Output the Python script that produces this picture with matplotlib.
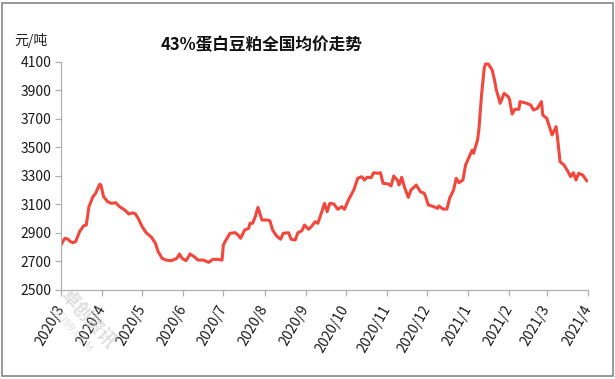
import numpy as np
import matplotlib.pyplot as plt
import matplotlib.dates as mdates
from matplotlib.patches import Rectangle

plt.rcParams['font.family'] = ['Noto Sans CJK SC', 'DejaVu Sans']

# days counted from 2020-03-01, price in 元/吨
days = [0, 2, 3, 5, 7, 9, 11, 14, 17, 19, 21, 24, 26, 28, 29, 30, 32, 35, 38, 41,
        44, 48, 51, 54, 56, 58, 61, 64, 68, 71, 73, 76, 79, 83, 87, 89, 91, 94, 97, 100,
        103, 107, 111, 114, 118, 121, 122, 124, 127, 131, 133, 135, 138, 141, 142, 144, 146, 148, 151, 155,
        157, 159, 162, 165, 167, 171, 173, 176, 178, 181, 183, 186, 188, 191, 193, 196, 198, 200, 202, 205,
        208, 211, 213, 216, 220, 223, 226, 228, 230, 233, 235, 238, 240, 242, 246, 248, 250, 253, 254, 256,
        258, 261, 263, 267, 270, 273, 274, 276, 280, 283, 284, 287, 290, 292, 295, 297, 299, 302, 304, 307,
        309, 310, 313, 314, 316, 318, 319, 321, 324, 326, 327, 330, 331, 333, 336, 337, 339, 341, 344, 345,
        350, 353, 355, 358, 361, 362, 365, 367, 369, 372, 373, 375, 378, 381, 383, 385, 387, 389, 392, 395]
prices = [2816, 2850, 2863, 2858, 2840, 2832, 2840, 2910, 2951, 2956, 3085, 3155, 3178, 3220, 3242, 3237, 3155, 3120, 3108, 3113,
          3085, 3061, 3033, 3042, 3033, 3003, 2944, 2902, 2870, 2827, 2769, 2722, 2710, 2706, 2722, 2753, 2722, 2706, 2753, 2734,
          2710, 2710, 2694, 2715, 2715, 2710, 2816, 2851, 2898, 2902, 2886, 2863, 2921, 2933, 2968, 2968, 3015, 3080, 2991, 2991,
          2986, 2921, 2879, 2856, 2898, 2902, 2856, 2851, 2902, 2916, 2956, 2926, 2944, 2979, 2968, 3050, 3108, 3050, 3108, 3104,
          3066, 3085, 3066, 3132, 3202, 3284, 3295, 3272, 3291, 3288, 3323, 3319, 3323, 3249, 3244, 3230, 3300, 3267, 3237, 3291,
          3225, 3150, 3202, 3237, 3190, 3178, 3155, 3097, 3085, 3073, 3090, 3068, 3068, 3143, 3202, 3284, 3253, 3272, 3377, 3440,
          3482, 3459, 3553, 3623, 3868, 4056, 4086, 4086, 4044, 3962, 3909, 3810, 3833, 3880, 3857, 3838, 3735, 3768, 3768, 3822,
          3810, 3798, 3763, 3775, 3822, 3728, 3705, 3646, 3588, 3646, 3576, 3400, 3377, 3330, 3295, 3323, 3272, 3319, 3307, 3267]
yticks = [2500, 2700, 2900, 3100, 3300, 3500, 3700, 3900, 4100]
title = '43%蛋白豆粕全国均价走势'
unit = '元/吨'

dates = np.datetime64('2020-03-01') + np.array(days).astype('timedelta64[D]')

fig = plt.figure(figsize=(6.15, 3.79), dpi=100)
ax = fig.add_axes([61/615, 1 - 290/379, 527/615, 228/379])

ax.plot(dates, prices, color='#f2473c', lw=2.2, solid_joinstyle='round')

ax.set_ylim(2500, 4100)
ax.set_yticks(yticks)
ax.set_xlim(np.datetime64('2020-03-01'), np.datetime64('2021-04-01'))
ax.xaxis.set_major_locator(mdates.MonthLocator())
ax.xaxis.set_major_formatter(mdates.DateFormatter('%Y/%-m'))

for s in ['top', 'right']:
    ax.spines[s].set_visible(False)
for s in ['left', 'bottom']:
    ax.spines[s].set_color('#b0b0b0')
    ax.spines[s].set_linewidth(0.9)
ax.tick_params(axis='both', colors='#b0b0b0', length=4, width=0.9, labelcolor='#1a1a1a', labelsize=10)
ax.tick_params(axis='y', pad=3)
ax.tick_params(axis='x', pad=8)
for lab in ax.get_xticklabels():
    lab.set_rotation(60)
    lab.set_ha('right')
    lab.set_va('center')
    lab.set_rotation_mode('anchor')

fig.text(262/615, 1 - 45/379, title, ha='center', va='center', fontsize=12, fontweight='bold', color='#111111')
fig.text(31/615, 1 - 40/379, unit, ha='center', va='center', fontsize=10, color='#222222')

# faint watermark
fig.text(88/615, 1 - 318/379, '卓创资讯', rotation=-48, ha='center', va='center', fontsize=13,
         fontweight='bold', color='#c8c8c8', alpha=0.6)
fig.text(72/615, 1 - 330/379, 'SCI99.COM', rotation=-48, ha='center', va='center', fontsize=8,
         color='#c8c8c8', alpha=0.6)

fig.add_artist(Rectangle((2/615, 3/379), 611/615, 373/379, transform=fig.transFigure,
                         fill=False, edgecolor='#888888', lw=1.2))

fig.savefig('out.png', dpi=100)
